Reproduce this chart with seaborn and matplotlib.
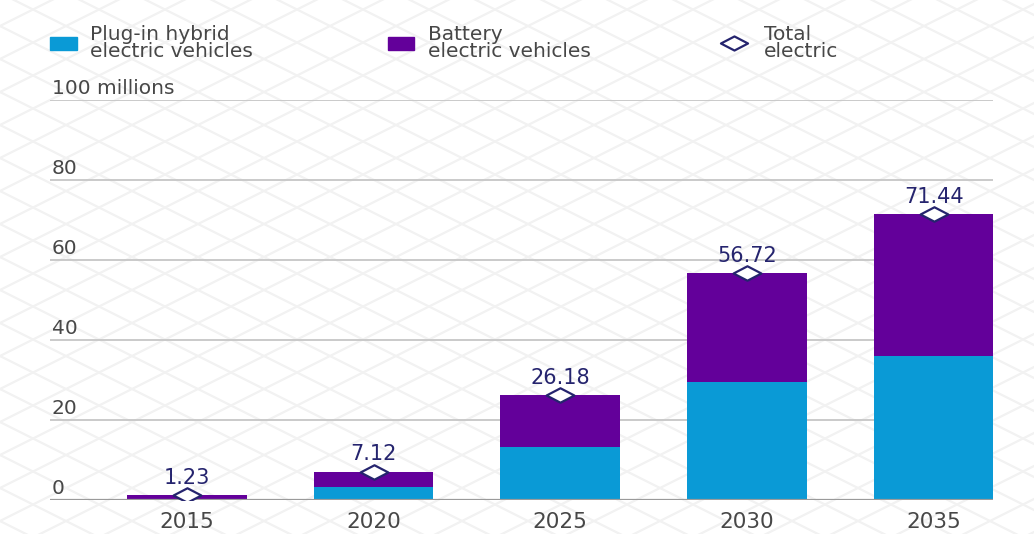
import numpy as np
import pandas as pd
import matplotlib
matplotlib.use("Agg")
import matplotlib.pyplot as plt
from matplotlib.patches import Rectangle
from matplotlib.path import Path
import matplotlib.transforms as mtransforms
import seaborn as sns

# Electric vehicle fleet, millions
years = ["2015", "2020", "2025", "2030", "2035"]
plugin_hybrid = [0.2, 3.3, 13.2, 29.5, 36.1]
total_electric = [1.23, 7.12, 26.18, 56.72, 71.44]
y_ticks = [0, 20, 40, 60, 80, 100]
y_tick_labels = ["0", "20", "40", "60", "80", "100 millions"]

BLUE = "#0a9ad6"
PURPLE = "#63009a"
NAVY = "#25246e"
GREY_TEXT = "#474747"

sns.set_theme(style="white")
plt.rcParams["font.family"] = ["DejaVu Sans"]

W, H = 1034, 534
fig = plt.figure(figsize=(W / 100, H / 100), dpi=100)
fig.patch.set_facecolor("white")

# faint diamond lattice behind everything
bg = fig.add_axes([0, 0, 1, 1], zorder=-5)
bg.set_xlim(0, W)
bg.set_ylim(H, 0)
bg.axis("off")
xs = np.array([0, W])
for c in np.arange(-700, 1300, 33):
    bg.plot(xs, 0.5 * xs + c, color="#f2f2f2", lw=1.6, zorder=0)
    bg.plot(xs, -0.5 * xs + c, color="#f2f2f2", lw=1.6, zorder=0)

px = lambda x: x / W
py = lambda y: 1 - y / H

ax = fig.add_axes([px(50), py(500), px(993) - px(50), (500 - 100) / H])
ax.patch.set_alpha(0)

df = pd.DataFrame({"year": years, "phev": plugin_hybrid, "total": total_electric})

# battery share shows as the part of the total bar above the hybrid bar
sns.barplot(data=df, x="year", y="total", color=PURPLE, width=0.64,
            saturation=1, linewidth=0, ax=ax, zorder=3)
sns.barplot(data=df, x="year", y="phev", color=BLUE, width=0.64,
            saturation=1, linewidth=0, ax=ax, zorder=4)

pos = np.arange(len(years))
ax.set_xlim(-0.733, 4.318)
ax.set_ylim(0, 100)

# horizontal rules with labels sitting on top of them
lbl_tr = mtransforms.blended_transform_factory(ax.transAxes, ax.transData)
for v, lab in zip(y_ticks, y_tick_labels):
    ax.axhline(v, color="#9a9a9a" if v == 0 else "#c6c6c6",
               lw=1.6 if v == 0 else 1.3, zorder=2 if v else 5)
    ax.annotate(lab, xy=(0.002, v), xycoords=lbl_tr, xytext=(0, 8),
                textcoords="offset points", ha="left", va="center",
                fontsize=14.5, color=GREY_TEXT)

# diamond markers for the total
diamond = Path([(-1, 0), (0, 0.52), (1, 0), (0, -0.52), (-1, 0)],
               [Path.MOVETO, Path.LINETO, Path.LINETO, Path.LINETO, Path.CLOSEPOLY])
sns.scatterplot(x=pos, y=total_electric, marker=diamond, s=400,
                color="white", edgecolor=NAVY, linewidth=1.6, ax=ax,
                zorder=6, legend=False)
for x, v in zip(pos, total_electric):
    ax.annotate(f"{v:.2f}", xy=(x, v), xytext=(0, 12.5),
                textcoords="offset points", ha="center", va="center",
                fontsize=15, color=NAVY, zorder=7)

ax.set_xlabel("")
ax.set_ylabel("")
ax.set_yticks([])
ax.set_xticks(pos)
ax.set_xticklabels(years)
ax.tick_params(axis="x", length=0, pad=9, labelsize=15.5, labelcolor=GREY_TEXT)
for s in ax.spines.values():
    s.set_visible(False)

# legend along the top
fig.patches.append(Rectangle((px(50), py(50)), px(27), 13 / H,
                             transform=fig.transFigure, color=BLUE))
fig.patches.append(Rectangle((px(388), py(50)), px(26), 13 / H,
                             transform=fig.transFigure, color=PURPLE))
fig.text(px(90), py(43), "Plug-in hybrid\nelectric vehicles", fontsize=14.5,
         color=GREY_TEXT, va="center", ha="left", linespacing=0.88)
fig.text(px(428), py(43), "Battery\nelectric vehicles", fontsize=14.5,
         color=GREY_TEXT, va="center", ha="left", linespacing=0.88)
bg.scatter([734], [43], marker=diamond, s=380, color="white",
           edgecolor=NAVY, linewidth=1.6, zorder=3)
fig.text(px(764), py(43), "Total\nelectric", fontsize=14.5,
         color=GREY_TEXT, va="center", ha="left", linespacing=0.88)

fig.savefig("out.png", dpi=100, facecolor="white")
